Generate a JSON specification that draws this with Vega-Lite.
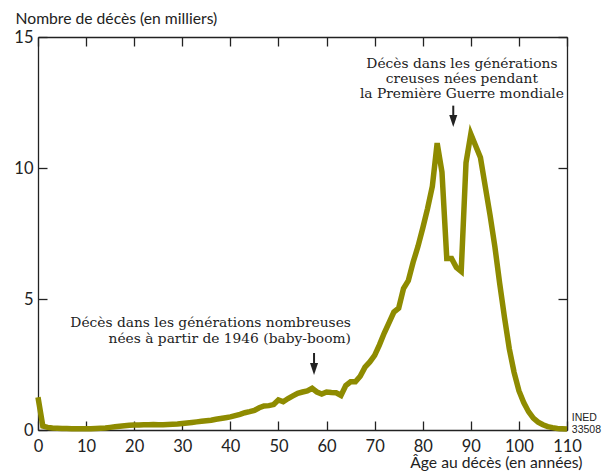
{
  "$schema": "https://vega.github.io/schema/vega-lite/v6.json",
  "width": 529,
  "height": 393,
  "autosize": {"type": "none"},
  "padding": {"left": 38, "top": 37, "right": 39, "bottom": 41},
  "background": "white",
  "config": {
    "view": {"stroke": null},
    "axis": {"grid": false, "domainColor": "#222", "tickColor": "#222", "domainWidth": 1.3, "tickWidth": 1.3, "labelFont": "Lato", "titleFont": "Lato", "labelColor": "#222", "titleColor": "#222", "labelFontSize": 16.5, "titleFontSize": 15.7, "titleFontWeight": "normal"}
  },
  "datasets": {
    "deaths": [
      {"age":0,"v":1.25},{"age":1,"v":0.15},{"age":2,"v":0.1},{"age":3,"v":0.08},{"age":4,"v":0.07},{"age":5,"v":0.06},{"age":6,"v":0.06},{"age":7,"v":0.05},{"age":8,"v":0.05},{"age":9,"v":0.05},
      {"age":10,"v":0.05},{"age":11,"v":0.05},{"age":12,"v":0.06},{"age":13,"v":0.07},{"age":14,"v":0.08},{"age":15,"v":0.1},{"age":16,"v":0.12},{"age":17,"v":0.14},{"age":18,"v":0.16},{"age":19,"v":0.18},
      {"age":20,"v":0.19},{"age":21,"v":0.19},{"age":22,"v":0.2},{"age":23,"v":0.2},{"age":24,"v":0.21},{"age":25,"v":0.2},{"age":26,"v":0.2},{"age":27,"v":0.21},{"age":28,"v":0.22},{"age":29,"v":0.23},
      {"age":30,"v":0.25},{"age":31,"v":0.27},{"age":32,"v":0.29},{"age":33,"v":0.31},{"age":34,"v":0.33},{"age":35,"v":0.35},{"age":36,"v":0.37},{"age":37,"v":0.41},{"age":38,"v":0.44},{"age":39,"v":0.47},
      {"age":40,"v":0.5},{"age":41,"v":0.55},{"age":42,"v":0.6},{"age":43,"v":0.66},{"age":44,"v":0.7},{"age":45,"v":0.75},{"age":46,"v":0.85},{"age":47,"v":0.92},{"age":48,"v":0.93},{"age":49,"v":0.97},
      {"age":50,"v":1.15},{"age":51,"v":1.08},{"age":52,"v":1.2},{"age":53,"v":1.3},{"age":54,"v":1.4},{"age":55,"v":1.45},{"age":56,"v":1.49},{"age":57,"v":1.59},{"age":58,"v":1.45},{"age":59,"v":1.37},
      {"age":60,"v":1.45},{"age":61,"v":1.43},{"age":62,"v":1.42},{"age":63,"v":1.32},{"age":64,"v":1.7},{"age":65,"v":1.84},{"age":66,"v":1.84},{"age":67,"v":2.05},{"age":68,"v":2.4},{"age":69,"v":2.6},
      {"age":70,"v":2.85},{"age":71,"v":3.25},{"age":72,"v":3.7},{"age":73,"v":4.1},{"age":74,"v":4.5},{"age":75,"v":4.65},{"age":76,"v":5.4},{"age":77,"v":5.7},{"age":78,"v":6.4},{"age":79,"v":7.0},
      {"age":80,"v":7.7},{"age":81,"v":8.45},{"age":82,"v":9.3},{"age":83,"v":10.95},{"age":84,"v":9.85},{"age":85,"v":6.55},{"age":86,"v":6.55},{"age":87,"v":6.2},{"age":88,"v":6.05},{"age":89,"v":10.2},
      {"age":90,"v":11.3},{"age":91,"v":10.85},{"age":92,"v":10.4},{"age":93,"v":9.3},{"age":94,"v":8.2},{"age":95,"v":7.0},{"age":96,"v":5.6},{"age":97,"v":4.3},{"age":98,"v":3.1},{"age":99,"v":2.2},
      {"age":100,"v":1.5},{"age":101,"v":1.05},{"age":102,"v":0.7},{"age":103,"v":0.45},{"age":104,"v":0.3},{"age":105,"v":0.2},{"age":106,"v":0.13},{"age":107,"v":0.09},{"age":108,"v":0.06},{"age":109,"v":0.05},
      {"age":110,"v":0.04}
    ],
    "arrows": [
      {"x":57.4,"top":2.94,"bottom":2.48,"head":2.33},
      {"x":86.35,"top":12.38,"bottom":11.95,"head":11.79}
    ],
    "noteLeft": [
      {"x":65.07,"y":3.93,"label":"Décès dans les générations nombreuses\nnées à partir de 1946 (baby-boom)"}
    ],
    "noteRight": [
      {"x":88.15,"y":13.8,"label":"Décès dans les générations\ncreuses nées pendant\nla Première Guerre mondiale"}
    ],
    "source": [
      {"x":111.0,"y":0.34,"label":"INED\n33508"}
    ]
  },
  "layer": [
    {
      "data": {"name": "deaths"},
      "mark": {"type": "line", "color": "#8e8b00", "strokeWidth": 5.5, "strokeJoin": "miter", "strokeCap": "butt"},
      "encoding": {
        "x": {"field": "age", "type": "quantitative", "scale": {"domain": [0, 110], "nice": false}, "axis": {"orient": "bottom", "values": [0,10,20,30,40,50,60,70,80,90,100,110], "tickSize": -9, "labelPadding": 17, "title": "Âge au décès (en années)", "titleAlign": "right", "titleAnchor": null, "titleX": 544, "titleY": 37, "titleBaseline": "alphabetic", "labelFlush": false}},
        "y": {"field": "v", "type": "quantitative", "scale": {"domain": [0, 15], "nice": false}, "axis": {"orient": "left", "values": [0,5,10,15], "tickSize": -9, "labelPadding": 14, "title": "Nombre de décès (en milliers)", "titleAngle": 0, "titleAlign": "left", "titleAnchor": null, "titleX": -23, "titleY": -14, "titleBaseline": "alphabetic", "labelFlush": false}}
      }
    },
    {
      "data": {"name": "deaths"},
      "mark": {"type": "line", "strokeOpacity": 0},
      "encoding": {
        "x": {"field": "age", "type": "quantitative", "axis": {"orient": "top", "values": [0,10,20,30,40,50,60,70,80,90,100,110], "tickSize": -9, "labels": false, "title": null}},
        "y": {"field": "v", "type": "quantitative", "axis": {"orient": "right", "values": [0,5,10,15], "tickSize": -9, "labels": false, "title": null}}
      }
    },
    {
      "data": {"name": "arrows"},
      "mark": {"type": "rule", "color": "#222", "strokeWidth": 2},
      "encoding": {
        "x": {"field": "x", "type": "quantitative", "axis": null},
        "y": {"field": "top", "type": "quantitative", "axis": null},
        "y2": {"field": "bottom"}
      }
    },
    {
      "data": {"name": "arrows"},
      "mark": {"type": "point", "shape": "M-0.67,-1L0.67,-1L0,1Z", "filled": true, "color": "#222", "opacity": 1, "size": 144},
      "encoding": {
        "x": {"field": "x", "type": "quantitative", "axis": null},
        "y": {"field": "head", "type": "quantitative", "axis": null}
      }
    },
    {
      "data": {"name": "noteLeft"},
      "mark": {"type": "text", "font": "DejaVu Serif", "fontSize": 13.8, "color": "#222", "lineBreak": "\n", "lineHeight": 16, "baseline": "alphabetic", "align": "right"},
      "encoding": {
        "x": {"field": "x", "type": "quantitative", "axis": null},
        "y": {"field": "y", "type": "quantitative", "axis": null},
        "text": {"field": "label"}
      }
    },
    {
      "data": {"name": "noteRight"},
      "mark": {"type": "text", "font": "DejaVu Serif", "fontSize": 13.8, "color": "#222", "lineBreak": "\n", "lineHeight": 15, "baseline": "alphabetic", "align": "center"},
      "encoding": {
        "x": {"field": "x", "type": "quantitative", "axis": null},
        "y": {"field": "y", "type": "quantitative", "axis": null},
        "text": {"field": "label"}
      }
    },
    {
      "data": {"name": "source"},
      "mark": {"type": "text", "font": "Liberation Sans", "fontSize": 10.5, "color": "#222", "lineBreak": "\n", "lineHeight": 12, "baseline": "alphabetic", "align": "left"},
      "encoding": {
        "x": {"field": "x", "type": "quantitative", "axis": null},
        "y": {"field": "y", "type": "quantitative", "axis": null},
        "text": {"field": "label"}
      }
    }
  ],
  "resolve": {"axis": {"x": "independent", "y": "independent"}}
}
